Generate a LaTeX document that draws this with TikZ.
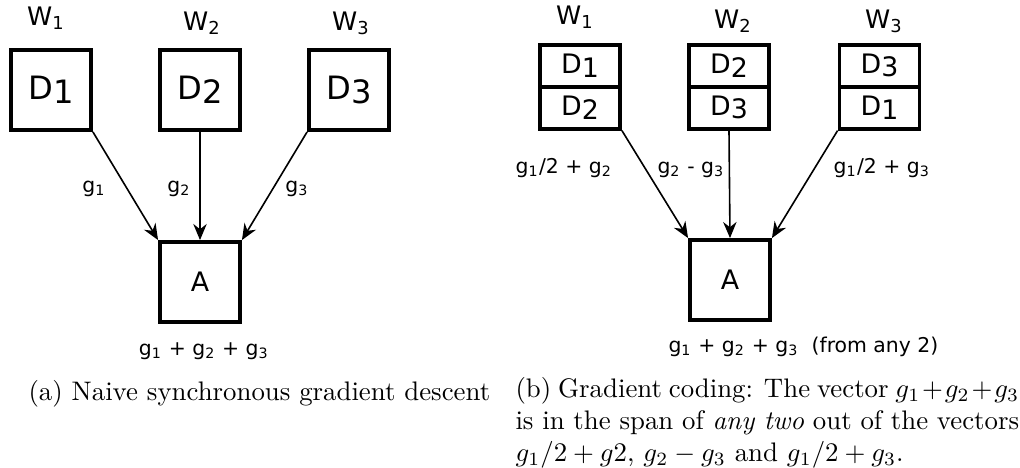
\documentclass[tikz,border=0pt]{standalone}
\usepackage{fontspec}
\newfontfamily\dvsans{DejaVu Sans}
\usetikzlibrary{arrows.meta}
\newcommand\dlab[2]{#1\raisebox{-0.12em}{#2}}

\begin{document}
\begin{tikzpicture}
  [x=0.0131cm,y=-0.0131cm,
   every node/.style={inner sep=0pt},
   worker/.style={draw,line width=1.4pt,minimum size=1.05cm,font=\dvsans\fontsize{12}{14}\selectfont},
   cell/.style={draw,line width=1.4pt,minimum width=1.05cm,minimum height=0.55cm,font=\dvsans\fontsize{10}{12}\selectfont},
   agg/.style={draw,line width=1.4pt,minimum size=1.05cm,font=\dvsans\fontsize{10}{12}\selectfont},
   wlab/.style={anchor=base,font=\dvsans\fontsize{9.5}{11}\selectfont},
   glab/.style={anchor=base,font=\dvsans\fontsize{7.6}{9}\selectfont},
   grad/.style={-{Stealth[length=6pt,width=5pt]},line width=0.6pt}]
  \useasboundingbox (0,0) rectangle (1020,467);

  % (a) naive
  \node[wlab] (w1a) at (46,25) {W\textsubscript{1}};
  \node[wlab] (w2a) at (202,30) {W\textsubscript{2}};
  \node[wlab] (w3a) at (351,30) {W\textsubscript{3}};
  \node[worker] (d1a) at (51,90) {\dlab{D}{1}};
  \node[worker] (d2a) at (200,90) {\dlab{D}{2}};
  \node[worker] (d3a) at (349,90) {\dlab{D}{3}};
  \node[agg] (aa) at (200,282) {A};
  \draw[grad] (d1a.south east) -- (aa.north west);
  \draw[grad] (d2a.south) -- (aa.north);
  \draw[grad] (d3a.south west) -- (aa.north east);
  \node[glab] (g1a) at (94,192) {g\textsubscript{1}};
  \node[glab] (g2a) at (179,192) {g\textsubscript{2}};
  \node[glab] (g3a) at (297,192) {g\textsubscript{3}};
  \node[glab] (suma) at (204,355) {g\textsubscript{1} + g\textsubscript{2} + g\textsubscript{3}};
  \node[anchor=base west] (capa) at (28,400) {(a) Naive synchronous gradient descent};

  % (b) gradient coding
  \node[wlab] (w1b) at (575,24) {W\textsubscript{1}};
  \node[wlab] (w2b) at (733,28) {W\textsubscript{2}};
  \node[wlab] (w3b) at (884,28) {W\textsubscript{3}};
  \node[cell] (c1b) at (580,65.75) {\dlab{D}{1}};
  \node[cell] (c1c) at (580,107.75) {\dlab{D}{2}};
  \node[cell] (c2b) at (729,65.75) {\dlab{D}{2}};
  \node[cell] (c2c) at (729,107.75) {\dlab{D}{3}};
  \node[cell] (c3b) at (879.5,65.75) {\dlab{D}{3}};
  \node[cell] (c3c) at (879.5,107.75) {\dlab{D}{1}};
  \node[agg] (ab) at (730,280) {A};
  \draw[grad] (c1c.south east) -- (ab.north west);
  \draw[grad] (c2c.south) -- (ab.north);
  \draw[grad] (c3c.south west) -- (ab.north east);
  \node[glab] (g1b) at (564,173) {g\textsubscript{1}/2 + g\textsubscript{2}};
  \node[glab] (g2b) at (691,173) {g\textsubscript{2} - g\textsubscript{3}};
  \node[glab] (g3b) at (882,173) {g\textsubscript{1}/2 + g\textsubscript{3}};
  \node[glab,anchor=base west] (sumb) at (668,352) {g\textsubscript{1} + g\textsubscript{2} + g\textsubscript{3}\ \ (from any 2)};
  \node[anchor=base west] (capb) at (515,397) {\parbox[t]{6.6cm}{(b) Gradient coding: The vector $g_1+g_2+g_3$\linebreak
    is in the span of \emph{any two} out of the vectors\linebreak
    $g_1/2+g2$, $g_2-g_3$ and $g_1/2+g_3$.}};
\end{tikzpicture}
\end{document}
